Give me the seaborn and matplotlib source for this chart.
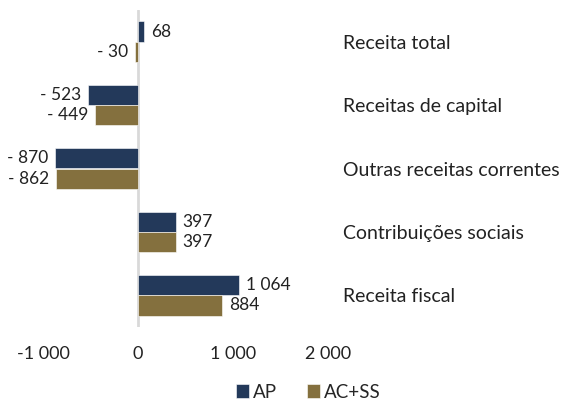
import pandas as pd
import matplotlib
matplotlib.use('Agg')
import matplotlib.pyplot as plt
import seaborn as sns

categories = ['Receita total', 'Receitas de capital', 'Outras receitas correntes',
              'Contribuições sociais', 'Receita fiscal']
ap = [68, -523, -870, 397, 1064]
ac_ss = [-30, -449, -862, 397, 884]
series = ['AP', 'AC+SS']
x_ticks = [-1000, 0, 1000, 2000]

df = pd.DataFrame({
    'categoria': categories * 2,
    'valor': ap + ac_ss,
    'serie': [series[0]] * len(categories) + [series[1]] * len(categories),
})

sns.set_theme(style='white')
plt.rcParams['font.family'] = ['Lato', 'DejaVu Sans']

colors = {'AP': '#1a3763', 'AC+SS': '#8f7533'}

fig = plt.figure(figsize=(5.68, 4.03), dpi=100)
ax = fig.add_axes([43 / 568, 1 - 327 / 403, 285 / 568, 317 / 403])

sns.barplot(data=df, y='categoria', x='valor', hue='serie', order=categories,
            hue_order=series, palette=colors, orient='h', width=0.64,
            edgecolor='white', linewidth=0.4, ax=ax)


def fmt(v):
    s = f'{abs(int(v)):,}'.replace(',', ' ')
    return f'- {s}' if v < 0 else s


for cont, vals in zip(ax.containers, [ap, ac_ss]):
    ax.bar_label(cont, labels=[fmt(v) for v in vals], padding=5, fontsize=12.5,
                 color='#222222')

ax.axvline(0, color='#d9d9d9', lw=2, zorder=0.5)
ax.set_xlim(-1000, 2000)
ax.set_ylim(4.5, -0.5)
ax.set_xticks(x_ticks)
ax.set_xticklabels([f'{v:,}'.replace(',', ' ') for v in x_ticks], fontsize=13,
                   color='#222222')
ax.tick_params(axis='x', length=0, pad=14)
ax.yaxis.tick_right()
ax.tick_params(axis='y', length=0, pad=11, labelsize=14, labelcolor='#222222')
ax.set_xlabel('')
ax.set_ylabel('')
for sp in ax.spines.values():
    sp.set_visible(False)

handles, labels = ax.get_legend_handles_labels()
ax.get_legend().remove()
fig.legend(handles, labels, loc='center', bbox_to_anchor=(308 / 568, 1 - 392 / 403),
           ncol=2, frameon=False, fontsize=13.5, handlelength=0.7, handleheight=0.7,
           handletextpad=0.2, columnspacing=1.6, borderaxespad=0)

fig.savefig('out.png', dpi=100)
